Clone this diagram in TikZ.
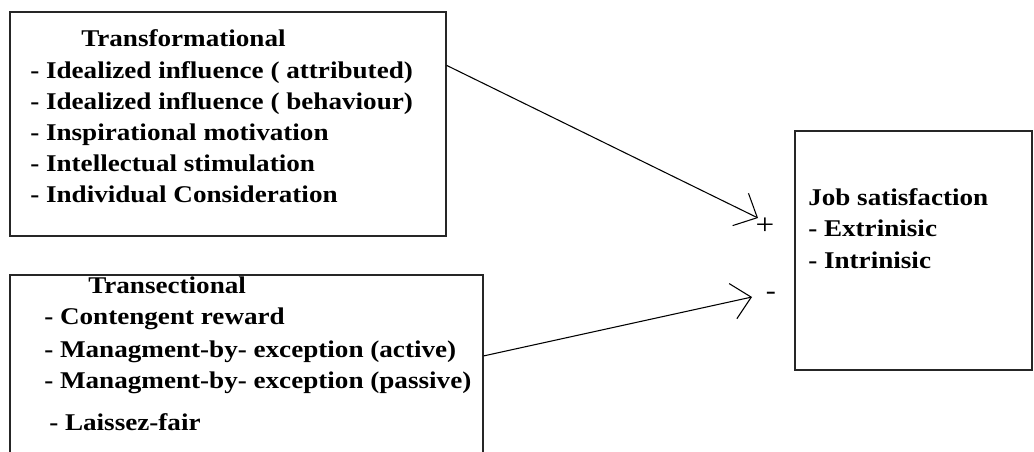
\documentclass[tikz,border=0pt]{standalone}
\usepackage{fontspec}
\setmainfont{Liberation Serif}[FakeStretch=1.13]
\usetikzlibrary{arrows.meta}

\begin{document}
\begin{tikzpicture}[x = 0.75pt, y = -0.75pt, > = {Straight Barb[length = 14pt, width = 27pt]},
	font = \fontsize{18pt}{22pt}\selectfont\bfseries,
	box/.style = {draw = black!85, line width = 1pt, inner sep = 0pt},
	item/.style = {anchor = base west, inner sep = 0pt}]
	
	\clip (0, 0) rectangle (1034, 452);
	
	% Boxes
	
	\node (transf) [box, minimum width = 327pt, minimum height = 168pt] at (228, 124) {};
	\node (transa) [box, minimum width = 354.75pt, minimum height = 146.25pt] at (246.5, 372.5) {};
	\node (job) [box, minimum width = 177.75pt, minimum height = 179.25pt] at (913.5, 250.5) {};
	
	% Transformational
	
	\node (tf0) [item] at (81, 47) {Transformational};
	\node (tf1) [item] at (30, 79) {- Idealized influence ( attributed)};
	\node (tf2) [item] at (30, 110) {- Idealized influence ( behaviour)};
	\node (tf3) [item] at (30, 141) {- Inspirational motivation};
	\node (tf4) [item] at (30, 172) {- Intellectual stimulation};
	\node (tf5) [item] at (30, 203) {- Individual Consideration};
	
	% Transectional
	
	\node (ta0) [item] at (88, 293) {Transectional};
	\node (ta1) [item] at (44, 324) {- Contengent reward};
	\node (ta2) [item] at (44, 357) {- Managment-by- exception (active)};
	\node (ta3) [item] at (44, 388) {- Managment-by- exception (passive)};
	\node (ta4) [item] at (49, 430) {- Laissez-fair};
	
	% Job satisfaction
	
	\node (js0) [item] at (808, 206) {Job satisfaction};
	\node (js1) [item] at (808, 237) {- Extrinisic};
	\node (js2) [item] at (808, 268) {- Intrinisic};
	
	% Arrows with signs
	
	\coordinate (tip1) at (758, 218);
	\coordinate (tip2) at (752, 297);
	\node (plus) [inner sep = 0pt, font = \fontsize{22pt}{24pt}\selectfont] at (765, 226) {+};
	\node (minus) [inner sep = 0pt, font = \fontsize{20pt}{24pt}\selectfont] at (771, 296) {-};
	
	\begin{scope}[->, line width = 0.8pt]
	
		\draw (transf.15) -- (tip1);
		\draw (transa.4) -- (tip2);
	
	\end{scope}

\end{tikzpicture}
\end{document}
